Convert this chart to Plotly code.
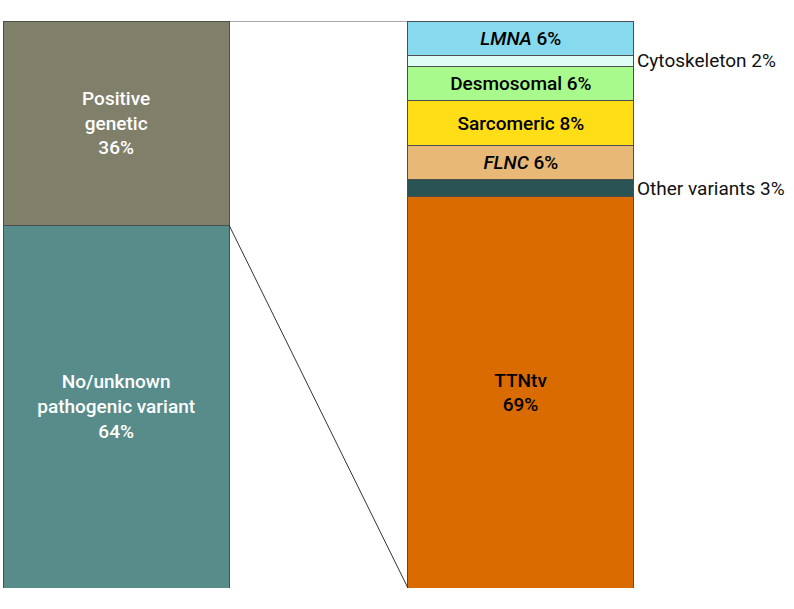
import plotly.graph_objects as go

# Left bar: overall cohort (bottom to top)
overall_labels = ["No/unknown<br>pathogenic variant", "Positive<br>genetic"]
overall_values = [64, 36]
overall_colors = ["#578C8A", "#807F6A"]

# Right bar: breakdown of positive genetic (bottom to top)
gene_labels = ["TTNtv", "Other variants", "<i>FLNC</i>", "Sarcomeric",
               "Desmosomal", "Cytoskeleton", "<i>LMNA</i>"]
gene_values = [69, 3, 6, 8, 6, 2, 6]
gene_colors = ["#D96B00", "#2A5353", "#E8B877", "#FFDD17",
               "#A8FA8C", "#DDFDF5", "#87DAEE"]
gene_outside = [False, True, False, False, False, True, False]
gene_sep = ["<br>", " ", " ", " ", " ", " ", " "]

FONT = "Roboto"
BAR_W = 0.558
OUTLINE = dict(color="#4d4d4d", width=1)

fig = go.Figure()

for lab, val, col in zip(overall_labels, overall_values, overall_colors):
    fig.add_trace(go.Bar(
        x=[0], y=[val], width=BAR_W,
        marker=dict(color=col, line=OUTLINE),
        text=[f"{lab}<br>{val}%"], textposition="inside",
        insidetextanchor="middle", textangle=0, constraintext="none",
        textfont=dict(family=FONT, size=19, color="white", weight=500),
        hoverinfo="skip",
    ))

base = 0
for lab, val, col, out, sep in zip(gene_labels, gene_values, gene_colors,
                                   gene_outside, gene_sep):
    txt = "" if out else f"{lab}{sep}{val}%"
    fig.add_trace(go.Bar(
        x=[1], y=[val], width=BAR_W,
        marker=dict(color=col, line=OUTLINE),
        text=[txt], textposition="inside",
        insidetextanchor="middle", textangle=0, constraintext="none",
        textfont=dict(family=FONT, size=19, color="#000000", weight=500),
        hoverinfo="skip",
    ))
    if out:
        fig.add_annotation(
            x=1 + BAR_W / 2, y=base + val / 2, xref="x", yref="y",
            text=f"{lab} {val}%", showarrow=False, xanchor="left", xshift=1,
            font=dict(family=FONT, size=19, color="#111111"),
        )
    base += val

# Connector lines from the "Positive genetic" segment to the breakdown bar
x0 = BAR_W / 2
x1 = 1 - BAR_W / 2
fig.add_shape(type="line", x0=x0, x1=x1, y0=100, y1=100,
              line=dict(color="#555555", width=1))
fig.add_shape(type="line", x0=x0, x1=x1, y0=overall_values[0], y1=0,
              line=dict(color="#333333", width=1))

fig.update_layout(
    barmode="stack",
    width=794, height=609,
    margin=dict(l=0, r=0, t=21, b=21),
    paper_bgcolor="white", plot_bgcolor="white",
    showlegend=False,
    xaxis=dict(range=[-0.287, 1.675], visible=False, fixedrange=True),
    yaxis=dict(range=[0, 100], visible=False, fixedrange=True),
)

fig.write_html("out.html", config={"displayModeBar": False},
               post_script="document.body.style.margin='0';")
